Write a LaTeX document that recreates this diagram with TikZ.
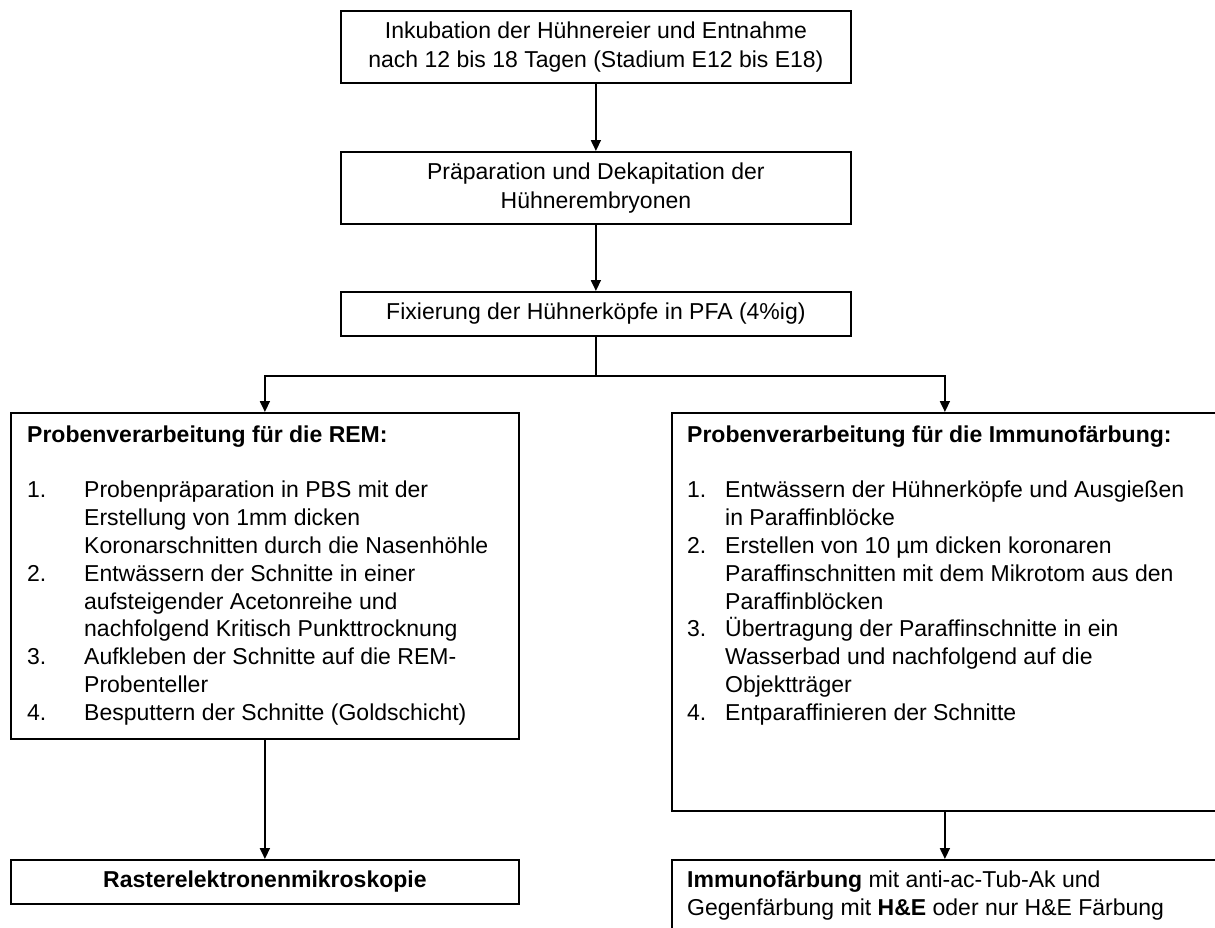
\documentclass[tikz,border=0pt]{standalone}
\usepackage{fontspec}
\setmainfont{Liberation Sans}
\usetikzlibrary{arrows.meta}
\newcommand{\numL}[1]{\makebox[57pt][l]{#1}}
\newcommand{\indL}{\hspace*{57pt}}
\newcommand{\numR}[1]{\makebox[38pt][l]{#1}}
\newcommand{\indR}{\hspace*{38pt}}
\begin{document}
\begin{tikzpicture}[x=1pt,y=-1pt,
  box/.style={draw, line width=1.8pt, inner sep=0pt, anchor=north west},
  boxtext/.style={font=\fontsize{23}{28.5}\selectfont, align=center},
  listtext/.style={inner sep=0pt, anchor=north west, align=left, font=\fontsize{23}{27.8}\selectfont},
  conn/.style={line width=1.8pt, -{Triangle[length=11pt,width=10pt]}},
  plain/.style={line width=1.8pt}]
\clip (0,0) rectangle (1215,927);
\fill[white] (0,0) rectangle (1215,927);

\node[box, boxtext, minimum width=510pt, minimum height=72pt] (inc) at (340,10)
  {Inkubation der Hühnereier und Entnahme\\nach 12 bis 18 Tagen (Stadium E12 bis E18)};
\node[box, boxtext, minimum width=510pt, minimum height=72pt] (prep) at (340,151)
  {Präparation und Dekapitation der\\Hühnerembryonen};
\node[box, boxtext, minimum width=510pt, minimum height=44pt] (fix) at (340,291)
  {Fixierung der Hühnerköpfe in PFA (4\%ig)};

\node[box, minimum width=508pt, minimum height=326pt] (rem) at (10,412) {};
\node[listtext] (remtxt) at (27,424)
  {\rule{0pt}{18pt}\textbf{Probenverarbeitung für die REM:}\\[27.8pt]
   \numL{1.}Probenpräparation in PBS mit der\\
   \indL Erstellung von 1mm dicken\\
   \indL Koronarschnitten durch die Nasenhöhle\\
   \numL{2.}Entwässern der Schnitte in einer\\
   \indL aufsteigender Acetonreihe und\\
   \indL nachfolgend Kritisch Punkttrocknung\\
   \numL{3.}Aufkleben der Schnitte auf die REM-\\
   \indL Probenteller\\
   \numL{4.}Besputtern der Schnitte (Goldschicht)};

\node[box, minimum width=546pt, minimum height=398pt] (imm) at (671,412) {};
\node[listtext] (immtxt) at (687,424)
  {\rule{0pt}{18pt}\textbf{Probenverarbeitung für die Immunofärbung:}\\[27.8pt]
   \numR{1.}Entwässern der Hühnerköpfe und Ausgießen\\
   \indR in Paraffinblöcke\\
   \numR{2.}Erstellen von 10 µm dicken koronaren\\
   \indR Paraffinschnitten mit dem Mikrotom aus den\\
   \indR Paraffinblöcken\\
   \numR{3.}Übertragung der Paraffinschnitte in ein\\
   \indR Wasserbad und nachfolgend auf die\\
   \indR Objektträger\\
   \numR{4.}Entparaffinieren der Schnitte};

\node[box, boxtext, minimum width=508pt, minimum height=44pt, font=\fontsize{23}{28}\selectfont\bfseries] (rast) at (10,859)
  {Rasterelektronenmikroskopie};
\node[box, minimum width=546pt, minimum height=110pt] (imf) at (671,859) {};
\node[listtext] (imftxt) at (687,869)
  {\rule{0pt}{18pt}\textbf{Immunofärbung} mit anti-ac-Tub-Ak und\\
   Gegenfärbung mit \textbf{H\&E} oder nur H\&E Färbung};

\draw[conn] (inc.south) -- (prep.north);
\draw[conn] (prep.south) -- (fix.north);
\coordinate (split) at ([yshift=-39pt]fix.south);
\draw[plain] (fix.south) -- (split);
\draw[conn] (split) -| (rem.north);
\draw[conn] (split) -| (imm.north);
\draw[conn] (rem.south) -- (rast.north);
\draw[conn] (imm.south) -- (imf.north);
\end{tikzpicture}
\end{document}
